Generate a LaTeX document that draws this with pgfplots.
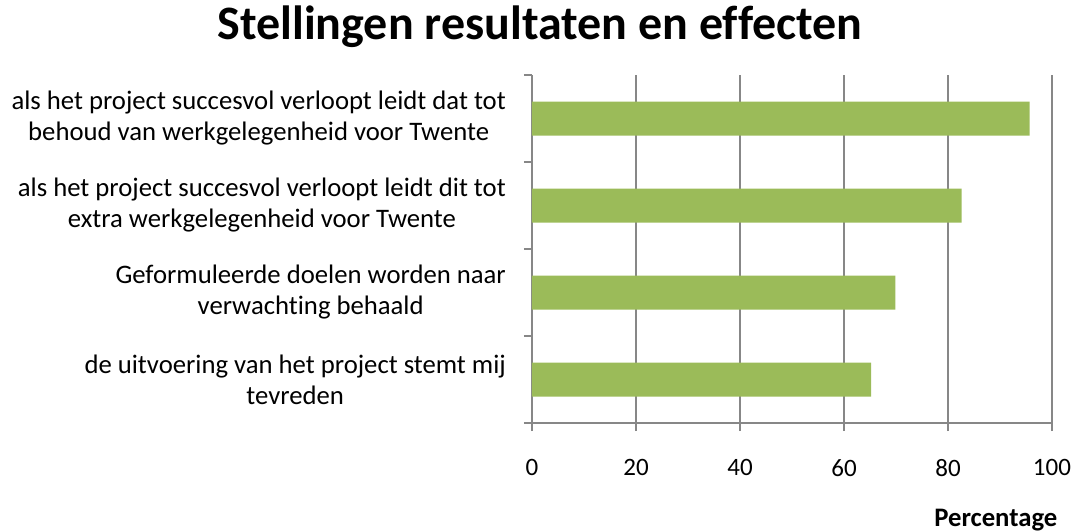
\documentclass[border=0pt]{standalone}
\usepackage{fontspec}
\setmainfont{Carlito}[Ligatures=NoCommon]
\usepackage{pgfplots}
\pgfplotsset{compat=1.18}
\definecolor{bargreen}{HTML}{9BBB59}
\definecolor{axgray}{HTML}{878787}

\begin{document}
\begin{tikzpicture}[x=1pt,y=1pt]
  \path[use as bounding box] (0,0) rectangle (1074,531);
  \begin{axis}[at={(532pt,108pt)},anchor=south west,
    width=520pt,height=348pt,scale only axis,
    xbar,xmin=0,xmax=100,ymin=0.5,ymax=4.5,
    bar width=34pt,
    axis x line*=bottom,axis y line*=left,
    axis line style={draw=axgray,line width=1.5pt},
    xtick={0,20,...,100},
    xmajorgrids,grid style={draw=axgray,line width=1.5pt},
    ytick={0.5,1.5,...,4.5},yticklabels={},
    tick align=outside,major tick length=8pt,
    tick style={draw=axgray,line width=1.5pt},
    xticklabel style={font=\fontsize{25}{30}\selectfont,inner sep=0pt,yshift=-28pt},
    /pgf/number format/assume math mode=true,
    extra y ticks={1,2,3,4},
    extra y tick labels={{de uitvoering van het project stemt mij\\tevreden},
      {Geformuleerde doelen worden naar\\verwachting behaald},
      {als het project succesvol verloopt leidt dit tot\\extra werkgelegenheid voor Twente},
      {als het project succesvol verloopt leidt dat tot\\behoud van werkgelegenheid voor Twente}},
    extra y tick style={major tick length=0pt,
      yticklabel style={align=center,inner sep=0pt,xshift=-26pt,
        font=\fontsize{26.7}{31}\selectfont}},
    title={Stellingen resultaten en effecten},
    title style={font=\fontsize{48}{56}\selectfont\bfseries,
      at={(axis description cs:0.0154,1.0845)},anchor=base},
    xlabel={Percentage},
    xlabel style={font=\fontsize{26.7}{31}\selectfont\bfseries,
      at={(axis description cs:0.892,-0.2960)},anchor=base},
  ]
    \addplot[fill=bargreen,draw=none] coordinates {(65.2,1) (69.9,2) (82.6,3) (95.7,4)};
  \end{axis}
\end{tikzpicture}
\end{document}
